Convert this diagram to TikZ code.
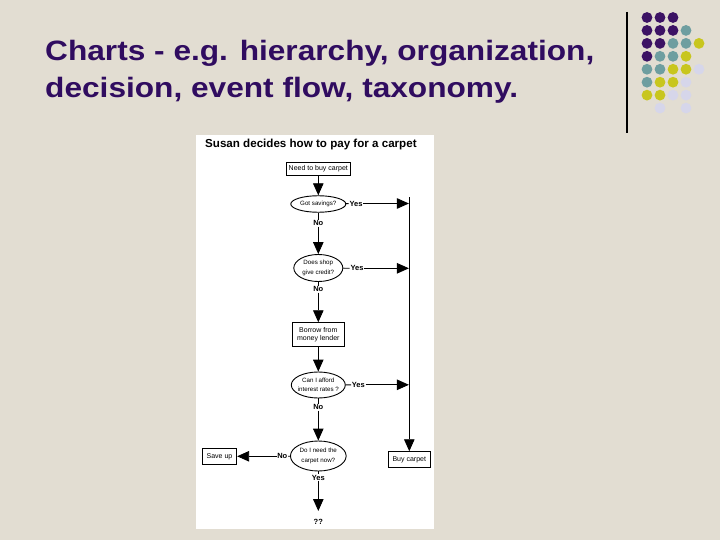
\documentclass[tikz,border=0pt]{standalone}
\usepackage{fontspec}
\usepackage{graphicx}
\setmainfont{Liberation Sans}
\usetikzlibrary{shapes.geometric,arrows.meta}
\definecolor{bg}{RGB}{226,221,210}
\definecolor{ttl}{RGB}{48,12,96}
\definecolor{dpurple}{RGB}{60,18,100}
\definecolor{dteal}{RGB}{110,158,160}
\definecolor{dyellow}{RGB}{200,198,30}
\definecolor{dlav}{RGB}{214,214,234}
\begin{document}
\begin{tikzpicture}[x=1pt,y=-1pt,
 box/.style={draw,line width=0.9pt,fill=white,inner sep=0pt,font=\fontsize{7}{8.5}\selectfont,align=center},
 dec/.style={ellipse,draw,line width=0.9pt,fill=white,inner sep=-8pt,font=\fontsize{6.2}{9.5}\selectfont,align=center},
 lbl/.style={inner sep=0.6pt,font=\bfseries\fontsize{7.5}{8}\selectfont,fill=white},
 conn/.style={line width=0.9pt},
 arr/.style={line width=0.9pt,-{Triangle[length=12pt,width=10.5pt]}},
 ttlfont/.style={font=\bfseries\fontsize{28}{30}\selectfont,text=ttl,inner sep=0pt,anchor=base west}
]
\useasboundingbox (0,0) rectangle (720,540);
\fill[bg] (0,0) rectangle (720,540);

% slide title
\node[ttlfont] (t1) at (45,61) {\scalebox{1.13}[1]{Charts - e.g. hierarchy, organization,}};
\node[ttlfont] (t2) at (45,97.5) {\scalebox{1.13}[1]{decision, event flow, taxonomy.}};

% decoration: line and dots
\draw[line width=1.2pt] (627,12) -- (627,133);
\foreach \r/\cols in {0/{0/dpurple,1/dpurple,2/dpurple},
                      1/{0/dpurple,1/dpurple,2/dpurple,3/dteal},
                      2/{0/dpurple,1/dpurple,2/dteal,3/dteal,4/dyellow},
                      3/{0/dpurple,1/dteal,2/dteal,3/dyellow},
                      4/{0/dteal,1/dteal,2/dyellow,3/dyellow,4/dlav},
                      5/{0/dteal,1/dyellow,2/dyellow,3/dlav},
                      6/{0/dyellow,1/dyellow,2/dlav,3/dlav},
                      7/{1/dlav,3/dlav}}{
  \foreach \c/\col in \cols {
    \fill[\col] (647+13*\c,17.5+12.94*\r) circle (5.4pt);
  }
}

% flowchart panel
\fill[white] (196,135) rectangle (434,529);
\node[anchor=base west,inner sep=0pt,font=\bfseries\fontsize{11.6}{12}\selectfont] (ctitle) at (205,148) {Susan decides how to pay for a carpet};

\node[box,minimum width=64.6pt,minimum height=13.4pt] (buy) at (318.3,169) {Need to buy carpet};
\node[dec,minimum width=55pt,minimum height=16.5pt] (sav) at (318.3,204) {Got savings?};
\node[lbl] (y1) at (356,203.5) {Yes};
\node[lbl] (n1) at (318.3,223.3) {No};
\node[dec,minimum width=49pt,minimum height=27pt] (shop) at (318.3,268) {Does shop\\give credit?};
\node[lbl] (y2) at (357,268.3) {Yes};
\node[lbl] (n2) at (318.3,289.3) {No};
\node[box,minimum width=51.6pt,minimum height=24pt] (borrow) at (318.3,334.7) {Borrow from\\money lender};
\node[dec,minimum width=54pt,minimum height=26pt] (afford) at (318.3,385) {Can I afford\\interest rates ?};
\node[lbl] (y3) at (358.3,384.8) {Yes};
\node[lbl] (n3) at (318.3,407.3) {No};
\node[dec,minimum width=55.7pt,minimum height=30pt] (now) at (318.3,456) {Do I need the\\carpet now?};
\node[lbl] (n4) at (282.3,456.3) {No};
\node[box,minimum width=34.4pt,minimum height=15.7pt] (save) at (219.5,456.3) {Save up};
\node[box,minimum width=42.7pt,minimum height=15.6pt] (bc) at (409.3,459.5) {Buy carpet};
\node[lbl] (y4) at (318.3,477.7) {Yes};
\node[lbl] (qq) at (318.3,521.7) {??};

\coordinate (vtop) at (409.3,197.5);
\coordinate (j1) at (408.9,203.5);
\coordinate (j2) at (408.9,268.3);
\coordinate (j3) at (408.9,384.8);
\coordinate (qtip) at (318.3,511);

\draw[arr] (buy) -- (sav);
\draw[conn] (sav) -- (y1);
\draw[arr] (y1) -- (j1);
\draw[conn] (sav) -- (n1);
\draw[arr] (n1) -- (shop);
\draw[conn] (shop) -- (y2);
\draw[arr] (y2) -- (j2);
\draw[conn] (shop) -- (n2);
\draw[arr] (n2) -- (borrow);
\draw[arr] (borrow) -- (afford);
\draw[conn] (afford) -- (y3);
\draw[arr] (y3) -- (j3);
\draw[conn] (afford) -- (n3);
\draw[arr] (n3) -- (now);
\draw[conn] (now) -- (n4);
\draw[arr] (n4) -- (save);
\draw[conn] (now) -- (y4);
\draw[arr] (y4) -- (qtip);
\draw[arr] (vtop) -- (bc);
\end{tikzpicture}
\end{document}
